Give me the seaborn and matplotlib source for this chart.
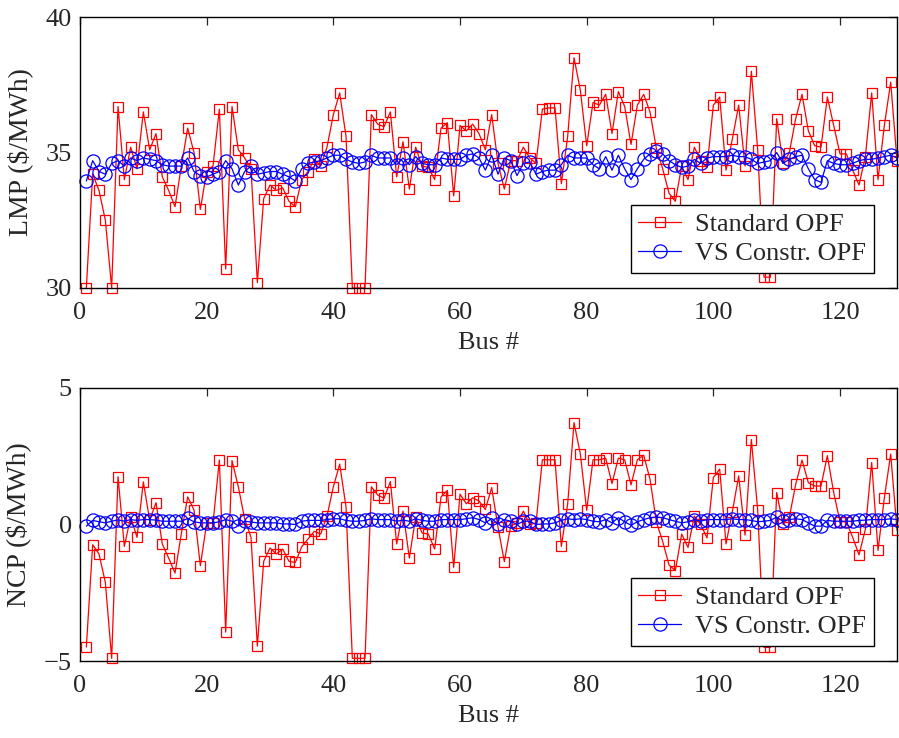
import numpy as np
import pandas as pd
import seaborn as sns
from matplotlib import pyplot as plt

# bus numbers
bus = np.arange(1, 130)

# LMP ($/MWh), standard OPF
lmp_std = [30.0, 34.2, 33.6, 32.5, 30.0, 36.7, 34.0, 35.2, 34.4, 36.5,
           35.1, 35.7, 34.1, 33.6, 33.0, 34.5, 35.9, 35.0, 32.9, 34.3,
           34.5, 36.6, 30.7, 36.7, 35.1, 34.8, 34.4, 30.2, 33.3, 33.8,
           33.6, 33.7, 33.2, 33.0, 34.0, 34.3, 34.75, 34.5, 35.2, 36.4,
           37.2, 35.6, 30.0, 30.0, 30.0, 36.4, 36.05, 35.95, 36.5, 34.1,
           35.4, 33.65, 35.2, 34.5, 34.45, 34.0, 35.9, 36.1, 33.4, 36.0,
           35.8, 36.05, 35.7, 35.1, 36.4, 34.6, 33.65, 34.7, 34.7, 35.2,
           34.8, 34.6, 36.6, 36.65, 36.65, 33.85, 35.6, 38.5, 37.3, 35.25,
           36.85, 36.75, 37.15, 35.7, 37.25, 36.7, 35.3, 36.75, 37.15, 36.5,
           35.15, 34.4, 33.5, 33.2, 34.5, 34.0, 35.2, 34.7, 34.45, 36.75,
           37.05, 34.35, 35.5, 36.75, 34.5, 38.0, 35.1, 30.4, 30.4, 36.25,
           34.6, 35.0, 36.25, 37.15, 35.8, 35.25, 35.2, 37.05, 36.0, 34.95,
           34.95, 34.35, 33.8, 34.85, 37.2, 34.0, 36.0, 37.6, 34.7]

# LMP ($/MWh), VS constrained OPF
lmp_vs = [33.95, 34.7, 34.3, 34.2, 34.6, 34.7, 34.5, 34.8, 34.7, 34.8,
          34.75, 34.7, 34.55, 34.5, 34.5, 34.5, 34.8, 34.3, 34.15, 34.1,
          34.2, 34.3, 34.7, 34.4, 33.8, 34.3, 34.5, 34.2, 34.25, 34.3,
          34.3, 34.2, 34.1, 33.95, 34.4, 34.6, 34.65, 34.7, 34.8, 34.9,
          34.9, 34.75, 34.65, 34.6, 34.65, 34.9, 34.8, 34.8, 34.8, 34.55,
          34.8, 34.55, 34.85, 34.6, 34.55, 34.55, 34.8, 34.75, 34.75, 34.75,
          34.9, 34.95, 34.8, 34.35, 34.9, 34.2, 34.8, 34.7, 34.15, 34.6,
          34.65, 34.2, 34.3, 34.35, 34.35, 34.55, 34.9, 34.8, 34.8, 34.8,
          34.55, 34.4, 34.85, 34.35, 34.9, 34.4, 34.0, 34.4, 34.75, 34.95,
          35.05, 34.95, 34.7, 34.55, 34.45, 34.5, 34.75, 34.6, 34.8, 34.85,
          34.85, 34.85, 34.9, 34.85, 34.85, 34.75, 34.6, 34.65, 34.7, 35.0,
          34.6, 34.75, 34.85, 34.9, 34.4, 34.0, 33.9, 34.7, 34.6, 34.55,
          34.55, 34.6, 34.7, 34.75, 34.75, 34.8, 34.85, 34.9, 34.8]

# NCP ($/MWh), standard OPF
ncp_std = [-4.49, -0.74, -1.08, -2.12, -4.9, 1.75, -0.8, 0.28, -0.47, 1.56,
           0.15, 0.8, -0.72, -1.23, -1.78, -0.33, 1.01, 0.53, -1.51, 0.05,
           0.05, 2.36, -3.94, 2.34, 1.38, 0.2, -0.47, -4.45, -1.35, -0.86,
           -1.08, -0.9, -1.35, -1.39, -0.82, -0.53, -0.25, -0.35, 0.31, 1.38,
           2.21, 0.64, -4.9, -4.9, -4.9, 1.38, 1.08, 0.96, 1.57, -0.71,
           0.49, -1.23, 0.27, -0.31, -0.35, -0.9, 1.01, 1.25, -1.57, 1.11,
           0.76, 0.98, 0.86, 0.55, 1.35, -0.1, -1.36, -0.05, 0.05, 0.49,
           0.0, 0.05, 2.37, 2.37, 2.37, -0.8, 0.76, 3.73, 2.58, 0.52,
           2.37, 2.37, 2.43, 1.5, 2.43, 2.37, 1.45, 2.37, 2.54, 1.66,
           0.1, -0.62, -1.48, -1.69, -0.35, -0.84, 0.31, 0.0, -0.49, 1.72,
           2.03, -0.71, 0.47, 1.78, -0.39, 3.11, 0.53, -4.5, -4.5, 1.17,
           0.0, 0.27, 1.47, 2.36, 1.53, 1.41, 1.41, 2.52, 1.17, 0.1,
           0.1, -0.47, -1.11, -0.18, 2.27, -0.95, 0.98, 2.58, -0.2]

# NCP ($/MWh), VS constrained OPF
ncp_vs = [-0.06, 0.15, 0.10, 0.06, 0.12, 0.17, 0.12, 0.18, 0.15, 0.18,
          0.18, 0.16, 0.12, 0.12, 0.12, 0.12, 0.22, 0.10, 0.06, 0.06,
          0.06, 0.10, 0.18, 0.12, -0.06, 0.12, 0.09, 0.06, 0.06, 0.06,
          0.06, 0.02, 0.02, 0.0, 0.12, 0.15, 0.15, 0.15, 0.18, 0.21,
          0.21, 0.15, 0.12, 0.12, 0.15, 0.21, 0.18, 0.18, 0.18, 0.12,
          0.16, 0.12, 0.21, 0.15, 0.12, 0.12, 0.18, 0.18, 0.18, 0.18,
          0.21, 0.25, 0.18, 0.06, 0.22, 0.02, 0.18, 0.12, 0.0, 0.12,
          0.12, 0.0, 0.02, 0.02, 0.06, 0.15, 0.21, 0.18, 0.21, 0.18,
          0.12, 0.10, 0.18, 0.06, 0.25, 0.10, -0.03, 0.10, 0.18, 0.25,
          0.27, 0.25, 0.18, 0.12, 0.06, 0.10, 0.18, 0.12, 0.18, 0.18,
          0.18, 0.18, 0.21, 0.18, 0.18, 0.15, 0.10, 0.12, 0.15, 0.27,
          0.12, 0.18, 0.21, 0.18, 0.06, -0.06, -0.06, 0.15, 0.12, 0.12,
          0.12, 0.12, 0.15, 0.16, 0.18, 0.18, 0.18, 0.21, 0.18]

x_ticks = [0, 20, 40, 60, 80, 100, 120]
labels = ['Standard OPF', 'VS Constr. OPF']

sns.set_style('white')
plt.rcParams['font.family'] = ['Liberation Serif', 'DejaVu Serif']
plt.rcParams['axes.unicode_minus'] = True

fig = plt.figure(figsize=(8.99, 7.38), dpi=100)
ax_top = fig.add_axes([0.089, 0.6098, 0.9088, 0.367])
ax_bot = fig.add_axes([0.089, 0.1043, 0.9088, 0.370])

panels = [
    (ax_top, lmp_std, lmp_vs, (30, 40), [30, 35, 40], r'LMP (\$/MWh)'),
    (ax_bot, ncp_std, ncp_vs, (-5, 5), [-5, 0, 5], r'NCP (\$/MWh)'),
]

for ax, y_std, y_vs, ylim, yticks, ylab in panels:
    df = pd.DataFrame({'bus': bus, 'std': y_std, 'vs': y_vs})
    sns.lineplot(data=df, x='bus', y='std', ax=ax, color='#ff0000',
                 marker='s', markersize=7.5, mfc='none', mec='#ff0000',
                 mew=0.9, lw=0.9, label=labels[0], clip_on=False)
    sns.lineplot(data=df, x='bus', y='vs', ax=ax, color='#0000ff',
                 marker='o', markersize=9.5, mfc='none', mec='#0000ff',
                 mew=0.9, lw=0.9, label=labels[1], clip_on=False)
    ax.set_xlim(0, 129)
    ax.set_ylim(*ylim)
    ax.set_xticks(x_ticks)
    ax.set_yticks(yticks)
    ax.set_xlabel('Bus #', fontsize=19, labelpad=6)
    ax.set_ylabel(ylab, fontsize=20, labelpad=9)
    ax.tick_params(direction='in', length=6, width=0.9, top=True,
                   right=True, labelsize=19)
    ax.tick_params(axis='x', pad=10)
    ax.tick_params(axis='y', pad=6)
    for sp in ax.spines.values():
        sp.set_linewidth(1.0)
        sp.set_color('black')
        sp.set_zorder(5)
    leg = ax.legend(loc='lower right', bbox_to_anchor=(0.972, 0.055),
                    borderaxespad=0, fontsize=19, frameon=True,
                    fancybox=False, framealpha=1, edgecolor='black',
                    handlelength=1.6, handletextpad=0.55, labelspacing=0.2,
                    borderpad=0.3)
    leg.get_frame().set_linewidth(1.0)

fig.savefig('out.png', dpi=100)
